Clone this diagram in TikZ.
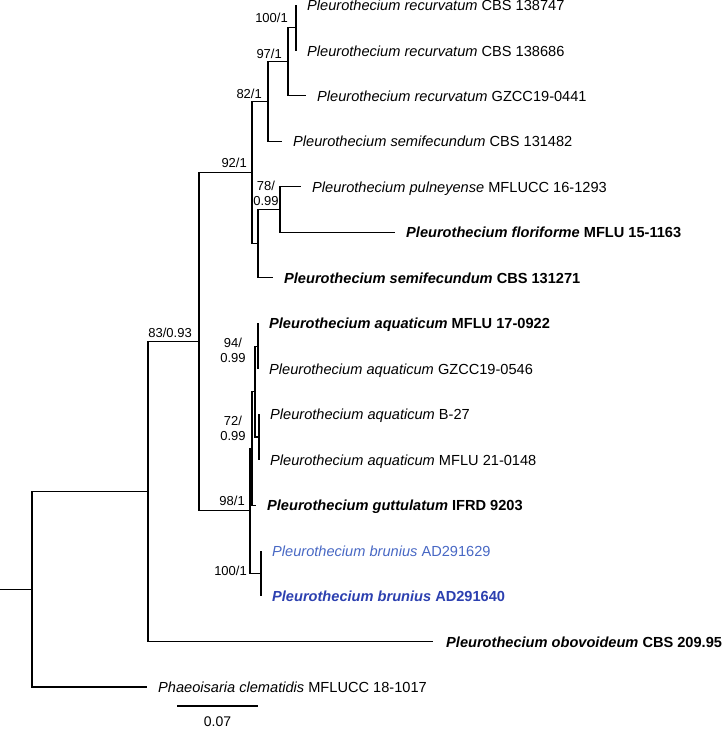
\documentclass[tikz,border=0pt]{standalone}
\usepackage{fontspec}
\setmainfont{Liberation Sans}
\definecolor{blueA}{RGB}{72,104,196}
\definecolor{blueB}{RGB}{44,64,176}
\tikzset{
  br/.style={line width=1.1pt, black},
  tip/.style={anchor=base west, inner sep=0pt, font=\fontsize{14.6}{17}\selectfont},
  sup/.style={inner sep=0pt, font=\fontsize{13}{15}\selectfont},
  supr/.style={sup, anchor=base east},
  supc/.style={sup, anchor=center, align=center},
}
\begin{document}
\begin{tikzpicture}[x=1pt,y=-1pt]
\useasboundingbox (0,0) rectangle (726,729);
% tip ends
\coordinate (a1) at (296,5.0);
\coordinate (a2) at (296,50.5);
\coordinate (a3) at (306,95.9);
\coordinate (a4) at (282,141.4);
\coordinate (a5) at (301,186.9);
\coordinate (a6) at (395,232.3);
\coordinate (a7) at (273,277.8);
\coordinate (a8) at (258,323.3);
\coordinate (a9) at (258,368.8);
\coordinate (a10) at (259,414.2);
\coordinate (a11) at (259,459.7);
\coordinate (a12) at (256,505.2);
\coordinate (a13) at (261,550.6);
\coordinate (a14) at (261,596.1);
\coordinate (a15) at (433,641.6);
\coordinate (a16) at (147,687.0);
% internal nodes
\coordinate (X1) at (296,27.75);
\coordinate (X2) at (288,61.8);
\coordinate (X3) at (268,101.6);
\coordinate (X6) at (280,209.6);
\coordinate (X5) at (258,243.7);
\coordinate (X4) at (252,172.65);
\coordinate (N1) at (258,346.05);
\coordinate (N3) at (259,436.95);
\coordinate (N2) at (255,391.5);
\coordinate (N4) at (252,448.35);
\coordinate (X10) at (261,573.35);
\coordinate (X9) at (250,510.85);
\coordinate (X7) at (199,341.75);
\coordinate (X8) at (148,491.7);
\coordinate (R) at (32,589.35);
\coordinate (R0) at (0,589.35);
% branches
\draw[br] (R0) -- (R);
\draw[br] (R) |- (X8);
\draw[br] (R) |- (a16);
\draw[br] (X8) |- (X7);
\draw[br] (X8) |- (a15);
\draw[br] (X7) |- (X4);
\draw[br] (X7) |- (X9);
\draw[br] (X4) |- (X3);
\draw[br] (X4) |- (X5);
\draw[br] (X3) |- (X2);
\draw[br] (X3) |- (a4);
\draw[br] (X2) |- (X1);
\draw[br] (X2) |- (a3);
\draw[br] (X1) |- (a1);
\draw[br] (X1) |- (a2);
\draw[br] (X5) |- (X6);
\draw[br] (X5) |- (a7);
\draw[br] (X6) |- (a5);
\draw[br] (X6) |- (a6);
\draw[br] (X9) |- (N4);
\draw[br] (X9) |- (X10);
\draw[br] (N4) |- (N2);
\draw[br] (N4) |- (a12);
\draw[br] (N2) |- (N1);
\draw[br] (N2) |- (N3);
\draw[br] (N1) |- (a8);
\draw[br] (N1) |- (a9);
\draw[br] (N3) |- (a10);
\draw[br] (N3) |- (a11);
\draw[br] (X10) |- (a13);
\draw[br] (X10) |- (a14);
% tip labels
\node[tip] (L1) at ([shift={(11,5.5)}]a1) {\textit{Pleurothecium recurvatum} CBS 138747};
\node[tip] (L2) at ([shift={(11,5.5)}]a2) {\textit{Pleurothecium recurvatum} CBS 138686};
\node[tip] (L3) at ([shift={(11,5.5)}]a3) {\textit{Pleurothecium recurvatum} GZCC19-0441};
\node[tip] (L4) at ([shift={(11,5.5)}]a4) {\textit{Pleurothecium semifecundum} CBS 131482};
\node[tip] (L5) at ([shift={(11,5.5)}]a5) {\textit{Pleurothecium pulneyense} MFLUCC 16-1293};
\node[tip] (L6) at ([shift={(11,5.5)}]a6) {\bfseries\textit{Pleurothecium floriforme} MFLU 15-1163};
\node[tip] (L7) at ([shift={(11,5.5)}]a7) {\bfseries\textit{Pleurothecium semifecundum} CBS 131271};
\node[tip] (L8) at ([shift={(11,5.5)}]a8) {\bfseries\textit{Pleurothecium aquaticum} MFLU 17-0922};
\node[tip] (L9) at ([shift={(11,5.5)}]a9) {\textit{Pleurothecium aquaticum} GZCC19-0546};
\node[tip] (L10) at ([shift={(11,5.5)}]a10) {\textit{Pleurothecium aquaticum} B-27};
\node[tip] (L11) at ([shift={(11,5.5)}]a11) {\textit{Pleurothecium aquaticum} MFLU 21-0148};
\node[tip] (L12) at ([shift={(11,5.5)}]a12) {\bfseries\textit{Pleurothecium guttulatum} IFRD 9203};
\node[tip, text=blueA] (L13) at ([shift={(11,5.5)}]a13) {\textit{Pleurothecium brunius} AD291629};
\node[tip, text=blueB] (L14) at ([shift={(11,5.5)}]a14) {\bfseries\textit{Pleurothecium brunius} AD291640};
\node[tip] (L15) at ([shift={(13,5.5)}]a15) {\bfseries\textit{Pleurothecium obovoideum} CBS 209.95};
\node[tip] (L16) at ([shift={(11,5.5)}]a16) {\textit{Phaeoisaria clematidis} MFLUCC 18-1017};
% support values
\node[supr] (S1) at (288,22) {100/1};
\node[supr] (S2) at (282,58) {97/1};
\node[supr] (S3) at (262,98) {82/1};
\node[supr] (S4) at (247,167) {92/1};
\node[supc] (S5) at (266,193) {78/\\0.99};
\node[supr] (S6) at (192,337) {83/0.93};
\node[supc] (S7) at (233,350) {94/\\0.99};
\node[supc] (S8) at (233,428) {72/\\0.99};
\node[supr] (S9) at (245,505) {98/1};
\node[supr] (S10) at (247,575) {100/1};
% scale bar
\coordinate (s1) at (177,706);
\coordinate (s2) at (258,706);
\draw[br] (s1) -- (s2);
\node[sup, font=\fontsize{14}{16}\selectfont] (SL) at (217.5,722) {0.07};
\end{tikzpicture}
\end{document}
